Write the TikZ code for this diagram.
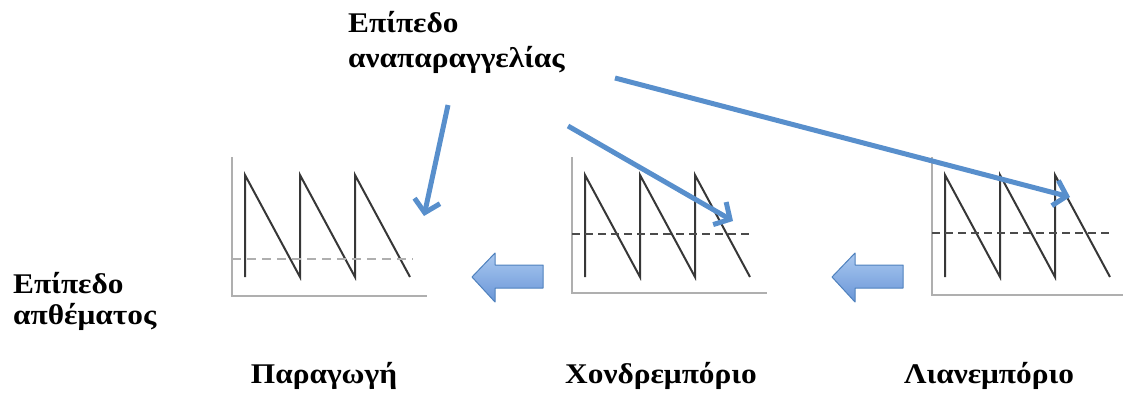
\documentclass[tikz,border=0pt]{standalone}
\usepackage{fontspec}
\setmainfont{Liberation Serif}[FakeStretch=1.1]
\usetikzlibrary{arrows.meta}
\definecolor{lineblue}{RGB}{88,143,204}
\definecolor{blockedge}{RGB}{79,129,189}
\definecolor{blocktop}{RGB}{170,200,240}
\definecolor{blockbot}{RGB}{105,150,215}
\definecolor{axisgray}{RGB}{175,175,175}
\definecolor{sawgray}{RGB}{55,55,55}
\newcommand{\mychart}[4]{%
  \draw[axisline] (#1,157) -- (#1,#4) -- ({#1+195},#4);
  \draw[sawline] ({#1+13},277) -- ({#1+13},175) -- ({#1+68},277) -- ({#1+68},175)
     -- ({#1+123},277) -- ({#1+123},175) -- ({#1+178},277);
  \draw[#3] (#1,#2) -- ({#1+181},#2);
}
\tikzset{
  lbl/.style={font=\fontsize{28.5}{32}\selectfont\bfseries, inner sep=0pt, anchor=base west},
  lblc/.style={font=\fontsize{28.5}{32}\selectfont\bfseries, inner sep=0pt, anchor=base},
  axisline/.style={draw=axisgray, line width=2pt},
  sawline/.style={draw=sawgray, line width=2pt, line join=miter},
  dashlight/.style={draw=axisgray, line width=2.2pt, dash pattern=on 9pt off 6pt},
  dashdark/.style={draw=sawgray!90, line width=1.4pt, dash pattern=on 8pt off 5pt},
  pointer/.style={draw=lineblue, line width=5pt, -{Straight Barb[length=12pt,width=26pt,line width=5pt]}},
  blockarrow/.style={draw=blockedge, line width=1pt, top color=blocktop, bottom color=blockbot, line join=round},
}
\begin{document}
\begin{tikzpicture}[x=1pt,y=-1pt]
\useasboundingbox (0,0) rectangle (1123,396);
% charts
\mychart{232}{259}{dashlight}{296}
\mychart{572}{234}{dashdark}{293}
\mychart{932}{233}{dashdark}{295}
% labels
\node[lbl] (reorder1) at (348,33) {Επίπεδο};
\node[lbl] (reorder2) at (348,67) {αναπαραγγελίας};
\node[lbl] (stock1) at (13,293) {Επίπεδο};
\node[lbl] (stock2) at (13,324) {απθέματος};
\node[lblc] (prod) at (324,383) {Παραγωγή};
\node[lblc] (whole) at (661,383) {Χονδρεμπόριο};
\node[lblc] (retail) at (989,383) {Λιανεμπόριο};
% pointer coordinates
\coordinate (s1) at (448,105);
\coordinate (e1) at (424,216);
\coordinate (s2) at (568,126);
\coordinate (e2) at (733,221);
\coordinate (s3) at (615,78);
\coordinate (e3) at (1070,197);
\draw[pointer] (s1) -- (e1);
\draw[pointer] (s2) -- (e2);
\draw[pointer] (s3) -- (e3);
% block arrows
\draw[blockarrow] (472,277) -- (495,253) -- (495,265) -- (543,265) -- (543,288) -- (495,288) -- (495,302) -- cycle;
\draw[blockarrow] (832,277) -- (855,253) -- (855,265) -- (903,265) -- (903,288) -- (855,288) -- (855,302) -- cycle;
\end{tikzpicture}
\end{document}
